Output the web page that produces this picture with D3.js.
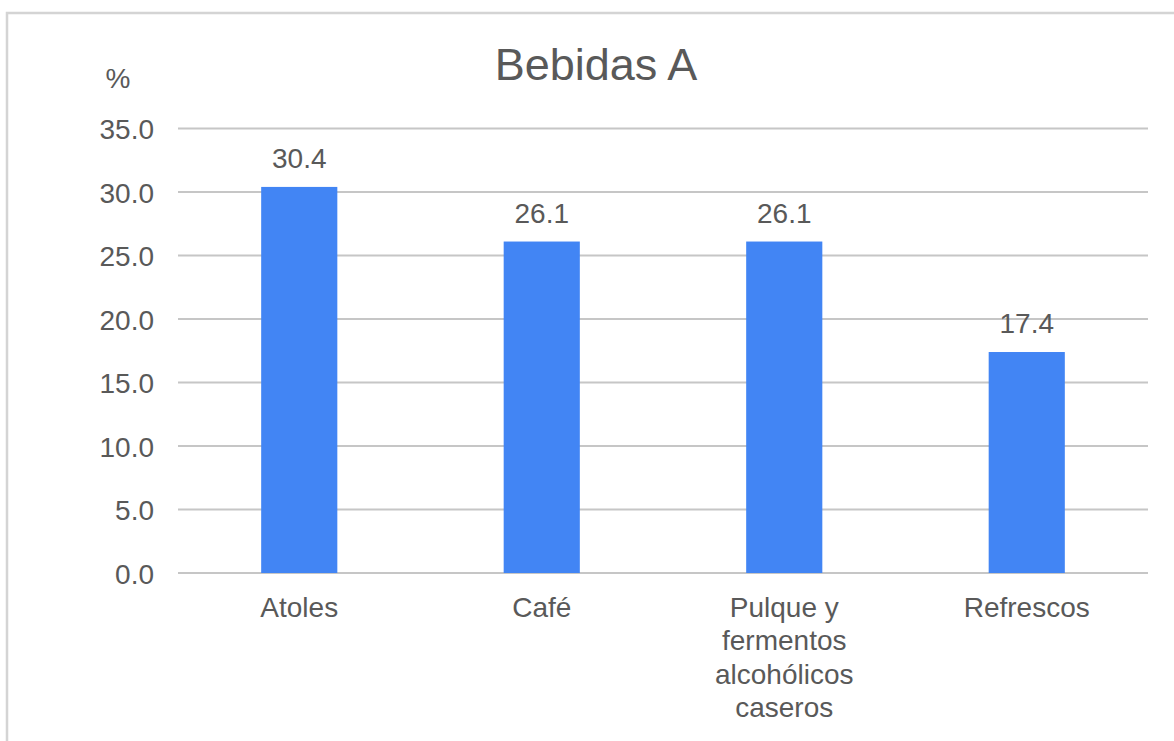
<!DOCTYPE html>
<html><head><meta charset="utf-8">
<script src="https://cdn.jsdelivr.net/npm/d3@7"></script>
<style>
html,body{margin:0;padding:0;background:#fff;}
svg{display:block;font-family:"Liberation Sans",Arial,sans-serif;}
</style></head>
<body>
<svg id="chart" width="1174" height="741"></svg>
<script>
const title = "Bebidas A";
const yLabel = "%";
const categories = ["Atoles", "Café", "Pulque y fermentos alcohólicos caseros", "Refrescos"];
const categoryLines = [["Atoles"], ["Café"], ["Pulque y", "fermentos", "alcohólicos", "caseros"], ["Refrescos"]];
const values = [30.4, 26.1, 26.1, 17.4];
const yTicks = [0, 5, 10, 15, 20, 25, 30, 35];

(function () {
const svg = d3.select("#chart");
const W = 1174, H = 741;
const textColor = "#595959";

// outer border
svg.append("rect").attr("x", 7).attr("y", 13).attr("width", W + 10).attr("height", H + 10)
  .attr("fill", "none").attr("stroke", "#d4d4d4").attr("stroke-width", 2.5);

const pLeft = 178, pRight = 1148, pTop = 128.5, pBottom = 573;
const x = d3.scaleBand().domain(categories).range([pLeft, pRight]).paddingInner(0.686).paddingOuter(0.343);
const y = d3.scaleLinear().domain([0, 35]).range([pBottom, pTop]);

// gridlines
const grid = svg.append("g");
grid.selectAll("line").data(yTicks).join("line")
  .attr("x1", pLeft).attr("x2", pRight)
  .attr("y1", d => y(d)).attr("y2", d => y(d))
  .attr("stroke", "#c6c6c6").attr("stroke-width", 2.2);

// y axis labels
const yAxis = d3.axisLeft(y).tickValues(yTicks).tickFormat(d3.format(".1f")).tickSize(0).tickPadding(0);
const ya = svg.append("g").attr("transform", `translate(${pLeft - 24},0)`).call(yAxis);
ya.select(".domain").remove();
ya.selectAll("text").attr("fill", textColor).attr("font-size", 28)
  .attr("font-family", "'Liberation Sans', Arial, sans-serif").attr("dy", "0.36em");

// bars
svg.append("g").selectAll("rect").data(values).join("rect")
  .attr("x", (d, i) => x(categories[i]))
  .attr("width", x.bandwidth())
  .attr("y", d => y(d))
  .attr("height", d => y(0) - y(d))
  .attr("fill", "#4285f4");

// value labels
svg.append("g").selectAll("text").data(values).join("text")
  .attr("x", (d, i) => x(categories[i]) + x.bandwidth() / 2)
  .attr("y", d => y(d) - 19)
  .attr("text-anchor", "middle")
  .attr("font-size", 28).attr("fill", textColor)
  .text(d => d3.format(".1f")(d));

// category labels
const cat = svg.append("g");
categories.forEach((c, i) => {
  const t = cat.append("text")
    .attr("x", x(c) + x.bandwidth() / 2)
    .attr("y", 617)
    .attr("text-anchor", "middle")
    .attr("font-size", 28).attr("fill", textColor);
  categoryLines[i].forEach((ln, j) => {
    t.append("tspan").attr("x", x(c) + x.bandwidth() / 2).attr("dy", j === 0 ? 0 : 33.3).text(ln);
  });
});

// title
svg.append("text").attr("x", 596).attr("y", 80).attr("text-anchor", "middle")
  .attr("font-size", 45).attr("fill", textColor).text(title);

// y label
svg.append("text").attr("x", 118).attr("y", 88).attr("text-anchor", "middle")
  .attr("font-size", 28).attr("fill", textColor).text(yLabel);
})();
</script>
</body></html>
